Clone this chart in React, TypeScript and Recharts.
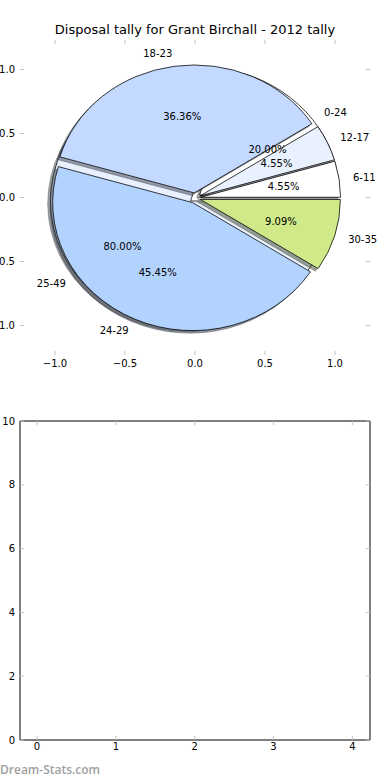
import React from 'react'
import { PieChart, Pie, Cell, ScatterChart, Scatter, XAxis, YAxis } from 'recharts'

// outer pie: games per disposal bracket of age-ish labels (as in the source chart)
const ageGroups = ['6-11', '12-17', '18-23', '24-29', '30-35']
const ageGames = [1, 1, 8, 10, 2]
const ageColors = ['#ffffff', '#e9f1ff', '#c4d9ff', '#b3d3ff', '#d0ea8a']

// second pie drawn underneath
const tallyGroups = ['0-24', '25-49']
const tallyGames = [1, 4]
const tallyColors = ['#ffffff', '#e9f1ff']

const pieTicks = [-1, -0.5, 0, 0.5, 1]
const gridXTicks = [0, 1, 2, 3, 4]
const gridYTicks = [0, 2, 4, 6, 8, 10]

const CX = 195
const CY = 198
const R = 140
const SY = 0.914 // matplotlib axes are not square, pie comes out a bit flat
const EXPLODE = 0.04
const RAD = Math.PI / 180
const GRAY = '#c0c0c0'
const FONT = 'DejaVu Sans, sans-serif'

type Slice = { name: string; value: number; pct: number; start: number; end: number; mid: number; color: string }

function buildSlices(names: string[], values: number[], colors: string[]): Slice[] {
  const total = values.reduce((a, b) => a + b, 0)
  let acc = 0
  return names.map((name, i) => {
    const start = (acc / total) * 360
    acc += values[i]
    const end = (acc / total) * 360
    return { name, value: values[i], pct: (values[i] / total) * 100, start, end, mid: (start + end) / 2, color: colors[i] }
  })
}

const ageSlices = buildSlices(ageGroups, ageGames, ageColors)
const tallySlices = buildSlices(tallyGroups, tallyGames, tallyColors)

function shade(hex: string) {
  const n = parseInt(hex.slice(1), 16)
  const r = Math.round(((n >> 16) & 255) * 0.3)
  const g = Math.round(((n >> 8) & 255) * 0.3)
  const b = Math.round((n & 255) * 0.3)
  return `rgb(${r},${g},${b})`
}

function centre(s: Slice) {
  const a = s.mid * RAD
  return { x: CX + EXPLODE * R * Math.cos(a), y: CY - EXPLODE * R * Math.sin(a) }
}

function Txt({ x, y, anchor, children }: any) {
  return (
    <text
      transform={`translate(${x},${y}) scale(1,${1 / SY})`}
      textAnchor={anchor}
      dominantBaseline="central"
      fontSize={10}
      fontFamily={FONT}
      fill="#000"
    >
      {children}
    </text>
  )
}

function sliceLabels(s: Slice, cx: number, cy: number) {
  const a = s.mid * RAD
  const c = Math.cos(a)
  const sn = Math.sin(a)
  return (
    <g>
      <Txt x={cx + 1.1 * R * c} y={cy - 1.1 * R * sn} anchor={c > 0 ? 'start' : 'end'}>
        {s.name}
      </Txt>
      <Txt x={cx + 0.6 * R * c} y={cy - 0.6 * R * sn} anchor="middle">
        {s.pct.toFixed(2) + '%'}
      </Txt>
    </g>
  )
}

function wedges(slices: Slice[], kind: 'shadow' | 'face' | 'label') {
  return slices.map((s) => {
    const o = centre(s)
    const dx = kind === 'shadow' ? -0.02 * R : 0
    const dy = kind === 'shadow' ? 0.02 * R : 0
    const fill = kind === 'shadow' ? shade(s.color) : kind === 'face' ? s.color : 'none'
    return (
      <Pie
        key={kind + s.name}
        data={[s]}
        dataKey="value"
        nameKey="name"
        cx={o.x + dx}
        cy={o.y + dy}
        startAngle={s.start}
        endAngle={s.end}
        innerRadius={0}
        outerRadius={R}
        stroke={kind === 'face' ? '#000' : kind === 'shadow' ? shade(s.color) : 'none'}
        strokeWidth={0.8}
        fillOpacity={kind === 'shadow' ? 0.5 : 1}
        strokeOpacity={kind === 'shadow' ? 0.5 : 1}
        isAnimationActive={false}
        labelLine={false}
        label={kind === 'label' ? (p: any) => sliceLabels(s, p.cx, p.cy) : false}
      >
        <Cell fill={fill} />
      </Pie>
    )
  })
}

const fmtPie = (v: number) => v.toFixed(1).replace('-', '\u2212')
const fmtInt = (v: number) => String(v)

const bottomTick = (fmt: (v: number) => string, pad: number) => (p: any) => (
  <g>
    <line x1={p.x} x2={p.x} y1={p.y} y2={p.y - 4} stroke={GRAY} />
    <text x={p.x} y={p.y + pad} textAnchor="middle" dominantBaseline="hanging" fontSize={10} fontFamily={FONT} fill="#000">
      {fmt(p.payload.value)}
    </text>
  </g>
)
const topTick = (p: any) => <line x1={p.x} x2={p.x} y1={p.y} y2={p.y + 4} stroke={GRAY} />
const leftTick = (fmt: (v: number) => string) => (p: any) => (
  <g>
    <line x1={p.x} x2={p.x + 4} y1={p.y} y2={p.y} stroke={GRAY} />
    <text x={p.x - 5} y={p.y} textAnchor="end" dominantBaseline="central" fontSize={10} fontFamily={FONT} fill="#000">
      {fmt(p.payload.value)}
    </text>
  </g>
)
const rightTick = (p: any) => <line x1={p.x} x2={p.x - 4} y1={p.y} y2={p.y} stroke={GRAY} />

export default function App() {
  return (
    <div style={{ position: 'relative', width: 390, height: 780, background: '#fff', overflow: 'hidden' }}>
      <style>{'body{margin:0}'}</style>
      <div
        style={{ position: 'absolute', top: 22, left: 0, width: 390, textAlign: 'center', fontSize: 13, lineHeight: '16px', fontFamily: FONT }}
      >
        Disposal tally for Grant Birchall - 2012 tally
      </div>

      {/* frameless axes behind the pie */}
      <div style={{ position: 'absolute', top: 0, left: 0 }}>
        <ScatterChart width={390} height={400} margin={{ top: 39, right: 0, bottom: 15, left: 0 }}>
          <XAxis xAxisId="b" type="number" dataKey="x" domain={[-1.25, 1.25]} ticks={pieTicks} interval={0} allowDataOverflow
            axisLine={false} tickLine={false} tickSize={0} tickMargin={0} height={30} tick={bottomTick(fmtPie, 5)} />
          <XAxis xAxisId="t" orientation="top" type="number" dataKey="x" domain={[-1.25, 1.25]} ticks={pieTicks} interval={0} allowDataOverflow
            axisLine={false} tickLine={false} tickSize={0} tickMargin={0} height={1} tick={topTick} />
          <YAxis yAxisId="l" type="number" dataKey="y" domain={[-1.23, 1.23]} ticks={pieTicks} interval={0} allowDataOverflow
            axisLine={false} tickLine={false} tickSize={0} tickMargin={0} width={20} tick={leftTick(fmtPie)} />
          <YAxis yAxisId="r" orientation="right" type="number" dataKey="y" domain={[-1.23, 1.23]} ticks={pieTicks} interval={0} allowDataOverflow
            axisLine={false} tickLine={false} tickSize={0} tickMargin={0} width={20} tick={rightTick} />
          <Scatter xAxisId="b" yAxisId="l" data={[]} isAnimationActive={false} />
        </ScatterChart>
      </div>

      <div style={{ position: 'absolute', top: 0, left: 0, width: 390, height: 400, transform: `scaleY(${SY})`, transformOrigin: `${CX}px ${CY}px` }}>
        <PieChart width={390} height={400} margin={{ top: 0, right: 0, bottom: 0, left: 0 }}>
          {wedges(tallySlices, 'shadow')}
          {wedges(tallySlices, 'face')}
          {wedges(ageSlices, 'shadow')}
          {wedges(ageSlices, 'face')}
          {wedges(tallySlices, 'label')}
          {wedges(ageSlices, 'label')}
        </PieChart>
      </div>

      {/* empty second axes */}
      <div style={{ position: 'absolute', top: 400, left: 0 }}>
        <ScatterChart width={390} height={380} margin={{ top: 20, right: 0, bottom: 10, left: 0 }}>
          <XAxis xAxisId="b" type="number" dataKey="x" domain={[-0.216, 4.224]} ticks={gridXTicks} interval={0} allowDataOverflow
            axisLine={{ stroke: '#000' }} tickLine={false} tickSize={0} tickMargin={0} height={30} tick={bottomTick(fmtInt, 3)} />
          <XAxis xAxisId="t" orientation="top" type="number" dataKey="x" domain={[-0.216, 4.224]} ticks={gridXTicks} interval={0} allowDataOverflow
            axisLine={{ stroke: '#000' }} tickLine={false} tickSize={0} tickMargin={0} height={1} tick={topTick} />
          <YAxis yAxisId="l" type="number" dataKey="y" domain={[0, 10]} ticks={gridYTicks} interval={0} allowDataOverflow
            axisLine={{ stroke: '#000' }} tickLine={false} tickSize={0} tickMargin={0} width={20} tick={leftTick(fmtInt)} />
          <YAxis yAxisId="r" orientation="right" type="number" dataKey="y" domain={[0, 10]} ticks={gridYTicks} interval={0} allowDataOverflow
            axisLine={{ stroke: '#000' }} tickLine={false} tickSize={0} tickMargin={0} width={20} tick={rightTick} />
          <Scatter xAxisId="b" yAxisId="l" data={[]} isAnimationActive={false} />
        </ScatterChart>
      </div>

      <div style={{ position: 'absolute', left: 0, top: 763, fontSize: 12, lineHeight: '14px', fontWeight: 600, color: '#a0a0a0', fontFamily: 'Open Sans, sans-serif' }}>
        Dream-Stats.com
      </div>
    </div>
  )
}
